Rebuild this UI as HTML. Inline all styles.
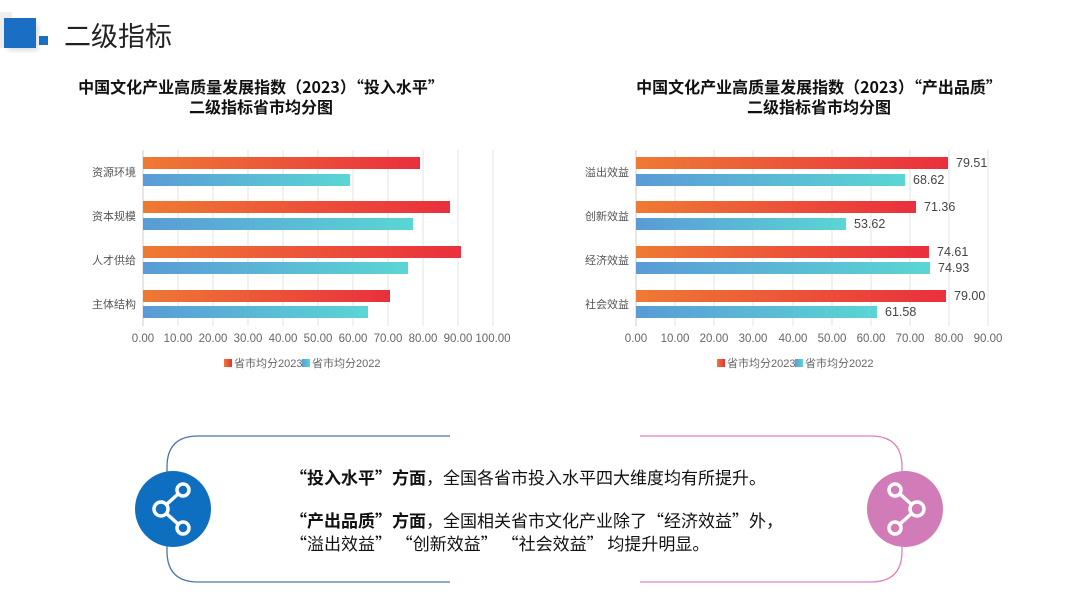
<!DOCTYPE html>
<html><head><meta charset="utf-8"><style>
body{margin:0;width:1080px;height:608px;background:#fff;overflow:hidden;font-family:"Liberation Sans","Noto Sans CJK SC",sans-serif}
</style></head><body>
<svg width="1080" height="608" viewBox="0 0 1080 608" xmlns="http://www.w3.org/2000/svg" font-family="Liberation Sans, Noto Sans CJK SC, sans-serif">
<defs>
<linearGradient id="r" x1="0" x2="1"><stop offset="0" stop-color="#ee7a34"/><stop offset="1" stop-color="#ea2f3d"/></linearGradient>
<linearGradient id="b" x1="0" x2="1"><stop offset="0" stop-color="#5a9bd6"/><stop offset="1" stop-color="#5ad6d4"/></linearGradient>
<filter id="sh"><feGaussianBlur stdDeviation="3"/></filter>
</defs>
<rect x="0" y="12" width="12" height="36" fill="#eee"/>
<rect x="8" y="24" width="30" height="26" fill="#999" opacity=".4" filter="url(#sh)"/>
<rect x="4" y="18" width="32" height="30" fill="#1a6fc4"/>
<rect x="39" y="36" width="9" height="9" fill="#1a6fc4"/>
<text x="64" y="46" font-size="27" fill="#222">二级指标</text>

<g font-weight="bold" font-size="16" fill="#111" text-anchor="middle" font-family="Noto Sans CJK SC, sans-serif">
<text x="261" y="93">中国文化产业高质量发展指数（2023）“投入水平”</text>
<text x="261" y="113">二级指标省市均分图</text>
<text x="819" y="93">中国文化产业高质量发展指数（2023）“产出品质”</text>
<text x="819" y="113">二级指标省市均分图</text>
</g>

<!-- left chart -->
<g stroke="#e3e3e3">
<line x1="178" y1="150" x2="178" y2="326"/><line x1="213" y1="150" x2="213" y2="326"/><line x1="248" y1="150" x2="248" y2="326"/><line x1="283" y1="150" x2="283" y2="326"/><line x1="318" y1="150" x2="318" y2="326"/><line x1="353" y1="150" x2="353" y2="326"/><line x1="388" y1="150" x2="388" y2="326"/><line x1="423" y1="150" x2="423" y2="326"/><line x1="458" y1="150" x2="458" y2="326"/><line x1="493" y1="150" x2="493" y2="326"/>
</g>
<line x1="143" y1="150" x2="143" y2="326" stroke="#ccc"/>
<g>
<rect x="143" y="157" width="277" height="12" fill="url(#r)"/><rect x="143" y="174" width="207" height="12" fill="url(#b)"/>
<rect x="143" y="201" width="307" height="12" fill="url(#r)"/><rect x="143" y="218" width="270" height="12" fill="url(#b)"/>
<rect x="143" y="246" width="318" height="12" fill="url(#r)"/><rect x="143" y="262" width="265" height="12" fill="url(#b)"/>
<rect x="143" y="290" width="247" height="12" fill="url(#r)"/><rect x="143" y="306" width="225" height="12" fill="url(#b)"/>
</g>
<g font-size="11" fill="#555" text-anchor="end">
<text x="136" y="176">资源环境</text><text x="136" y="220">资本规模</text><text x="136" y="264">人才供给</text><text x="136" y="308">主体结构</text>
</g>
<g font-size="11.5" fill="#666" text-anchor="middle">
<text x="143" y="342">0.00</text><text x="178" y="342">10.00</text><text x="213" y="342">20.00</text><text x="248" y="342">30.00</text><text x="283" y="342">40.00</text><text x="318" y="342">50.00</text><text x="353" y="342">60.00</text><text x="388" y="342">70.00</text><text x="423" y="342">80.00</text><text x="458" y="342">90.00</text><text x="493" y="342">100.00</text>
</g>
<rect x="224" y="359" width="8" height="8" fill="url(#r)"/><text x="234" y="367" font-size="11" fill="#666">省市均分2023</text>
<rect x="302" y="359" width="8" height="8" fill="url(#b)"/><text x="312" y="367" font-size="11" fill="#666">省市均分2022</text>

<!-- right chart -->
<g stroke="#e3e3e3">
<line x1="675" y1="150" x2="675" y2="326"/><line x1="714" y1="150" x2="714" y2="326"/><line x1="753" y1="150" x2="753" y2="326"/><line x1="793" y1="150" x2="793" y2="326"/><line x1="832" y1="150" x2="832" y2="326"/><line x1="871" y1="150" x2="871" y2="326"/><line x1="910" y1="150" x2="910" y2="326"/><line x1="949" y1="150" x2="949" y2="326"/><line x1="988" y1="150" x2="988" y2="326"/>
</g>
<line x1="636" y1="150" x2="636" y2="326" stroke="#ccc"/>
<g>
<rect x="636" y="157" width="312" height="12" fill="url(#r)"/><rect x="636" y="174" width="269" height="12" fill="url(#b)"/>
<rect x="636" y="201" width="280" height="12" fill="url(#r)"/><rect x="636" y="218" width="210" height="12" fill="url(#b)"/>
<rect x="636" y="246" width="293" height="12" fill="url(#r)"/><rect x="636" y="262" width="294" height="12" fill="url(#b)"/>
<rect x="636" y="290" width="310" height="12" fill="url(#r)"/><rect x="636" y="306" width="241" height="12" fill="url(#b)"/>
</g>
<g font-size="12.5" fill="#444">
<text x="956" y="167">79.51</text><text x="913" y="184">68.62</text>
<text x="924" y="211">71.36</text><text x="854" y="228">53.62</text>
<text x="937" y="256">74.61</text><text x="938" y="272">74.93</text>
<text x="954" y="300">79.00</text><text x="885" y="316">61.58</text>
</g>
<g font-size="11" fill="#555" text-anchor="end">
<text x="629" y="176">溢出效益</text><text x="629" y="220">创新效益</text><text x="629" y="264">经济效益</text><text x="629" y="308">社会效益</text>
</g>
<g font-size="11.5" fill="#666" text-anchor="middle">
<text x="636" y="342">0.00</text><text x="675" y="342">10.00</text><text x="714" y="342">20.00</text><text x="753" y="342">30.00</text><text x="793" y="342">40.00</text><text x="832" y="342">50.00</text><text x="871" y="342">60.00</text><text x="910" y="342">70.00</text><text x="949" y="342">80.00</text><text x="988" y="342">90.00</text>
</g>
<rect x="717" y="359" width="8" height="8" fill="url(#r)"/><text x="727" y="367" font-size="11" fill="#666">省市均分2023</text>
<rect x="795" y="359" width="8" height="8" fill="url(#b)"/><text x="805" y="367" font-size="11" fill="#666">省市均分2022</text>

<!-- bottom box -->
<path d="M450 436 H198 Q167 436 167 467 V551 Q167 582 198 582 H450" fill="none" stroke="#4a77a8" stroke-width="1.3"/>
<path d="M640 436 H871 Q902 436 902 467 V551 Q902 582 871 582 H640" fill="none" stroke="#e07fbf" stroke-width="1.3"/>
<circle cx="173" cy="509" r="38" fill="#0e6fc1"/>
<circle cx="905" cy="509" r="38" fill="#d27bb9"/>
<g fill="none" stroke="#fff" stroke-width="3.5">
<circle cx="161" cy="509" r="7"/><circle cx="183" cy="490" r="6"/><circle cx="183" cy="528" r="6"/>
<line x1="167" y1="504" x2="178" y2="494"/><line x1="167" y1="514" x2="178" y2="524"/>
<circle cx="917" cy="509" r="7"/><circle cx="895" cy="490" r="6"/><circle cx="895" cy="528" r="6"/>
<line x1="911" y1="504" x2="900" y2="494"/><line x1="911" y1="514" x2="900" y2="524"/>
</g>
<g font-size="17" fill="#111" font-family="Noto Sans CJK SC, sans-serif">
<text x="290" y="484"><tspan font-weight="bold">“投入水平”方面</tspan>，全国各省市投入水平四大维度均有所提升。</text>
<text x="290" y="527"><tspan font-weight="bold">“产出品质”方面</tspan>，全国相关省市文化产业除了“经济效益”外，</text>
<text x="290" y="550">“溢出效益” “创新效益” “社会效益” 均提升明显。</text>
</g>
</svg>
</body></html>
